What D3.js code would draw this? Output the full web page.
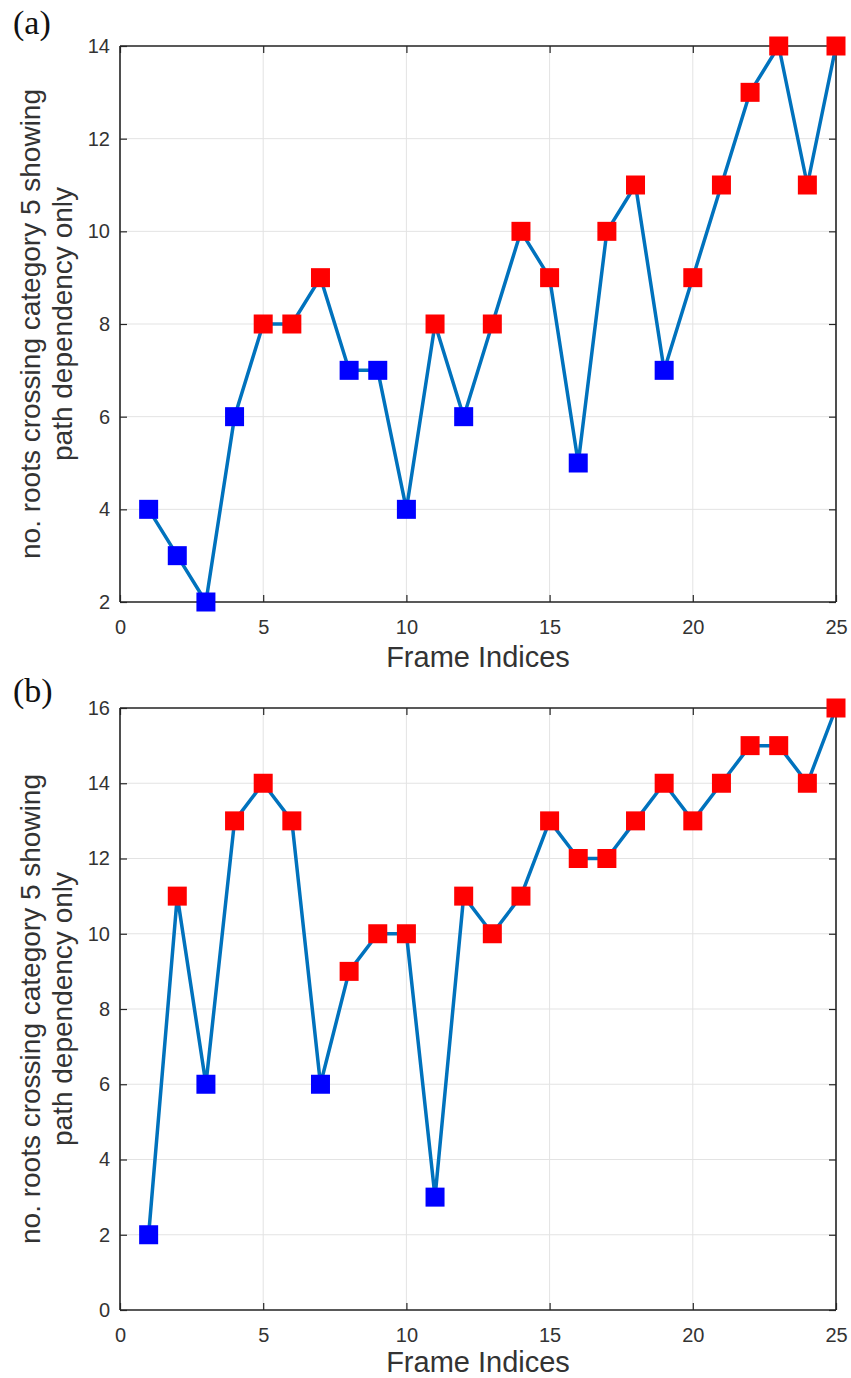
<!DOCTYPE html>
<html>
<head>
<meta charset="utf-8">
<script src="https://cdn.jsdelivr.net/npm/d3@7"></script>
<style>
  html, body { margin: 0; padding: 0; background: #fff; }
  svg { display: block; }
</style>
</head>
<body>
<script>
// Frame indices shared by both panels
const frames = d3.range(1, 26);

// Panel (a): roots per frame
const countsA = [4, 3, 2, 6, 8, 8, 9, 7, 7, 4, 8, 6, 8, 10, 9, 5, 10, 11, 7, 9, 11, 13, 14, 11, 14];
// Panel (b): roots per frame
const countsB = [2, 11, 6, 13, 14, 13, 6, 9, 10, 10, 3, 11, 10, 11, 13, 12, 12, 13, 14, 13, 14, 15, 15, 14, 16];

// Tick values
const xTicks = [0, 5, 10, 15, 20, 25];
const yTicksA = [2, 4, 6, 8, 10, 12, 14];
const yTicksB = [0, 2, 4, 6, 8, 10, 12, 14, 16];

// Counts below this level are drawn with blue markers, the rest red
const lowLimit = 8;

const W = 851, H = 1378;
const svg = d3.select("body").append("svg").attr("width", W).attr("height", H);

const axisColor = "#262626";
const gridColor = "#e3e3e3";
const lineColor = "#0072BD";
const font = "'Liberation Sans', Arial, sans-serif";

function panel(opts) {
  const { left, right, top, bottom, values, yTicks, yDomain, tag, tagY, titleGap } = opts;
  const g = svg.append("g");
  const x = d3.scaleLinear().domain([0, 25]).range([left, right]);
  const y = d3.scaleLinear().domain(yDomain).range([bottom, top]);

  // grid
  g.append("g").selectAll("line").data(xTicks).join("line")
    .attr("x1", d => x(d)).attr("x2", d => x(d))
    .attr("y1", top).attr("y2", bottom)
    .attr("stroke", gridColor).attr("stroke-width", 1);
  g.append("g").selectAll("line").data(yTicks).join("line")
    .attr("x1", left).attr("x2", right)
    .attr("y1", d => y(d)).attr("y2", d => y(d))
    .attr("stroke", gridColor).attr("stroke-width", 1);

  // axes with inward ticks on all four sides
  const tickLen = 7;
  const bottomAxis = d3.axisBottom(x).tickValues(xTicks).tickSize(-tickLen).tickPadding(18).tickFormat(d3.format("d"));
  const topAxis = d3.axisTop(x).tickValues(xTicks).tickSize(-tickLen).tickFormat("");
  const leftAxis = d3.axisLeft(y).tickValues(yTicks).tickSize(-tickLen).tickPadding(10).tickFormat(d3.format("d"));
  const rightAxis = d3.axisRight(y).tickValues(yTicks).tickSize(-tickLen).tickFormat("");

  const styleAxis = sel => {
    sel.selectAll("path").attr("stroke", axisColor).attr("stroke-width", 1.6);
    sel.selectAll("line").attr("stroke", axisColor).attr("stroke-width", 1.2);
    sel.selectAll("text").attr("fill", "#333").style("font-family", font).style("font-size", "20px");
  };

  g.append("g").attr("transform", `translate(0,${bottom})`).call(bottomAxis).call(styleAxis)
    .call(s => s.select(".domain").attr("d", `M${left},0H${right}`));
  g.append("g").attr("transform", `translate(0,${top})`).call(topAxis).call(styleAxis)
    .call(s => s.select(".domain").attr("d", `M${left},0H${right}`));
  g.append("g").attr("transform", `translate(${left},0)`).call(leftAxis).call(styleAxis)
    .call(s => s.select(".domain").attr("d", `M0,${top}V${bottom}`));
  g.append("g").attr("transform", `translate(${right},0)`).call(rightAxis).call(styleAxis)
    .call(s => s.select(".domain").attr("d", `M0,${top}V${bottom}`));

  // x-axis title
  g.append("text")
    .attr("x", (left + right) / 2).attr("y", bottom + titleGap)
    .attr("text-anchor", "middle")
    .attr("fill", "#333")
    .style("font-family", font).style("font-size", "29px")
    .text("Frame Indices");

  // y-axis title on two lines
  const cy = (top + bottom) / 2;
  const yt = g.append("text")
    .attr("transform", `translate(40,${cy}) rotate(-90)`)
    .attr("text-anchor", "middle")
    .attr("fill", "#333")
    .style("font-family", font).style("font-size", "28px");
  yt.append("tspan").attr("x", 0).attr("dy", 0).text("no. roots crossing category 5 showing");
  yt.append("tspan").attr("x", 0).attr("dy", 32).text("path dependency only");

  // panel tag
  g.append("text")
    .attr("x", 13).attr("y", tagY)
    .attr("fill", "#111")
    .style("font-family", "'Liberation Serif', 'Times New Roman', serif")
    .style("font-size", "34px")
    .text(tag);

  // data line
  const pts = frames.map((f, i) => ({ f, v: values[i] }));
  g.append("path")
    .datum(pts)
    .attr("fill", "none")
    .attr("stroke", lineColor)
    .attr("stroke-width", 3.5)
    .attr("stroke-linejoin", "round")
    .attr("d", d3.line().x(d => x(d.f)).y(d => y(d.v)));

  // square markers
  const s = 19;
  g.append("g").selectAll("rect").data(pts).join("rect")
    .attr("x", d => x(d.f) - s / 2)
    .attr("y", d => y(d.v) - s / 2)
    .attr("width", s).attr("height", s)
    .attr("fill", d => d.v < lowLimit ? "#0000FF" : "#FF0000");
}

panel({ left: 120, right: 836, top: 46, bottom: 602, values: countsA, yTicks: yTicksA, yDomain: [2, 14], tag: "(a)", tagY: 34, titleGap: 65 });
panel({ left: 120, right: 836, top: 708, bottom: 1310, values: countsB, yTicks: yTicksB, yDomain: [0, 16], tag: "(b)", tagY: 702, titleGap: 62 });
</script>
</body>
</html>
